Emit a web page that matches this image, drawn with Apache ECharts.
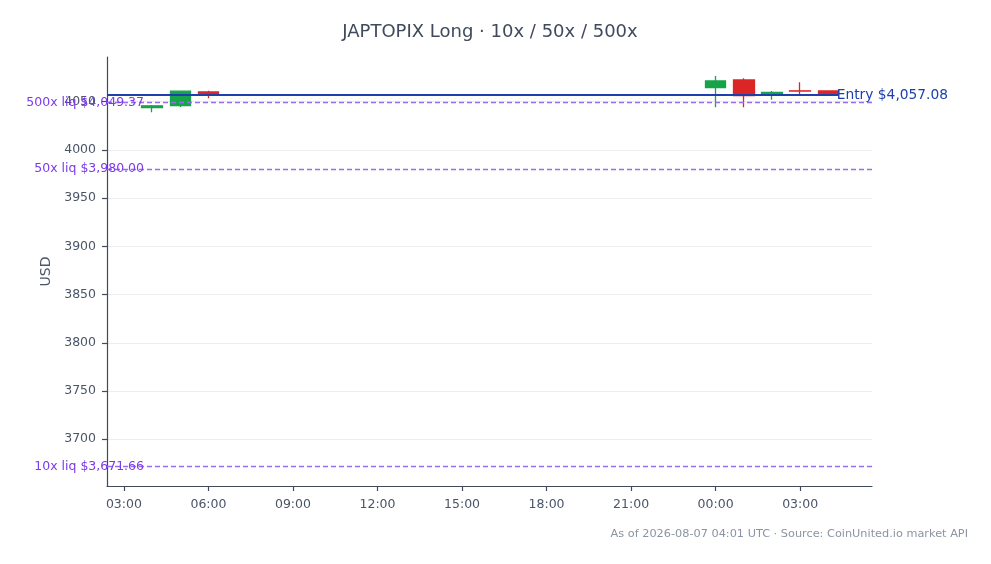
<!DOCTYPE html>
<html>
<head>
<meta charset="utf-8">
<title>JAPTOPIX Long</title>
<script src="https://cdn.jsdelivr.net/npm/echarts@6.0.0/dist/echarts.min.js"></script>
<style>
    html, body { margin: 0; padding: 0; background: #ffffff; }
    #chart { width: 991px; height: 564px; }
</style>
</head>
<body>
<div id="chart"></div>
<script>
// Hours since 2026-08-06 00:00 UTC
const candleHours = [4, 5, 6, 24, 25, 26, 27, 28];
const opens  = [4044.0, 4046.0, 4060.2, 4064.6, 4072.6, 4056.8, 4061.3, 4061.2];
const closes = [4045.8, 4061.0, 4057.8, 4071.5, 4056.3, 4059.6, 4061.1, 4058.1];
const lows   = [4039.0, 4044.6, 4053.6, 4044.3, 4044.3, 4052.0, 4057.0, 4057.6];
const highs  = [4046.5, 4061.5, 4061.5, 4076.7, 4074.3, 4061.2, 4070.2, 4061.4];

const entryPrice = 4057.08;
const liqNames = ['10x', '50x', '500x'];
const liqPrices = [3671.66, 3980.00, 4049.37];

const xTicks = [3, 6, 9, 12, 15, 18, 21, 24, 27];
const yTicks = [3700, 3750, 3800, 3850, 3900, 3950, 4000, 4050];

const xMin = 2.4;
const xMax = 29.55;
const entryEnd = 28.37;
const yMin = 3651.5;
const yMax = 4096.4;

const GREEN = '#16a34a';
const RED = '#dc2626';
const BLUE = '#1e40af';
const PURPLE_LINE = '#9b6cf0';
const PURPLE_TEXT = '#7c3aed';
const AXIS = '#3f4a5a';
const TEXT = '#4a5568';

/**
 * Format a price like $4,057.08
 */
function money(v) {
    return '$' + v.toLocaleString('en-US', { minimumFractionDigits: 2, maximumFractionDigits: 2 });
}

/**
 * Hour offset -> HH:00 (UTC)
 */
function hourLabel(v) {
    const h = ((Math.round(v) % 24) + 24) % 24;
    return (h < 10 ? '0' : '') + h + ':00';
}

const candles = candleHours.map((h, i) => [h, opens[i], closes[i], lows[i], highs[i]]);

const liqLines = liqPrices.map((p, i) => ({
    yAxis: p,
    label: { formatter: liqNames[i] + ' liq ' + money(p) }
}));

const chart = echarts.init(document.getElementById('chart'), null, { renderer: 'canvas' });

const option = {
    animation: false,
    backgroundColor: '#ffffff',
    textStyle: { fontFamily: 'DejaVu Sans' },
    title: [
        {
            text: 'JAPTOPIX Long · 10x / 50x / 500x',
            left: 485,
            top: 18,
            textAlign: 'center',
            textStyle: { fontFamily: 'DejaVu Sans', fontSize: 18, fontWeight: 'normal', color: '#3f4a5c' }
        },
        {
            text: 'As of 2026-08-07 04:01 UTC · Source: CoinUnited.io market API',
            right: 18,
            top: 524,
            textStyle: { fontFamily: 'DejaVu Sans', fontSize: 11.3, fontWeight: 'normal', color: '#8a94a3' }
        }
    ],
    grid: { left: 107, right: 119, top: 57, bottom: 78 },
    xAxis: {
        type: 'value',
        min: xMin,
        max: xMax,
        axisLine: { show: true, lineStyle: { color: AXIS, width: 1.2 } },
        axisTick: { show: true, length: 5, customValues: xTicks, lineStyle: { color: AXIS, width: 1.2 } },
        axisLabel: {
            customValues: xTicks,
            formatter: hourLabel,
            color: TEXT,
            fontSize: 12.5,
            margin: 12
        },
        splitLine: { show: false }
    },
    yAxis: {
        type: 'value',
        min: yMin,
        max: yMax,
        name: 'USD',
        nameLocation: 'middle',
        nameGap: 49,
        nameTextStyle: { color: TEXT, fontSize: 14 },
        axisLine: { show: true, lineStyle: { color: AXIS, width: 1.2 } },
        axisTick: { show: true, length: 5, customValues: yTicks, lineStyle: { color: AXIS, width: 1.2 } },
        axisLabel: {
            customValues: yTicks,
            formatter: v => String(Math.round(v)),
            color: TEXT,
            fontSize: 12.5,
            margin: 11
        },
        splitLine: { show: true, lineStyle: { color: '#ebedf0', width: 1 } }
    },
    series: [
        {
            name: 'JAPTOPIX',
            type: 'candlestick',
            data: candles,
            encode: { x: 0, y: [1, 2, 3, 4] },
            barWidth: 21,
            itemStyle: {
                color: GREEN,
                color0: RED,
                borderColor: GREEN,
                borderColor0: RED,
                borderWidth: 1.3
            },
            markLine: {
                silent: true,
                symbol: 'none',
                lineStyle: { type: [5, 3], color: PURPLE_LINE, width: 1.3 },
                label: {
                    position: 'start',
                    distance: -37,
                    color: PURPLE_TEXT,
                    fontSize: 12.5
                },
                data: liqLines
            }
        },
        {
            name: 'Entry',
            type: 'line',
            data: [],
            markLine: {
                silent: true,
                symbol: 'none',
                lineStyle: { type: 'solid', color: BLUE, width: 2 },
                label: {
                    position: 'end',
                    distance: -2,
                    color: BLUE,
                    fontSize: 13.8,
                    formatter: 'Entry ' + money(entryPrice)
                },
                data: [[
                    { coord: [xMin, entryPrice] },
                    { coord: [entryEnd, entryPrice] }
                ]]
            }
        }
    ]
};

chart.setOption(option);

window.addEventListener('resize', () => {
    chart.resize();
});
</script>
</body>
</html>
